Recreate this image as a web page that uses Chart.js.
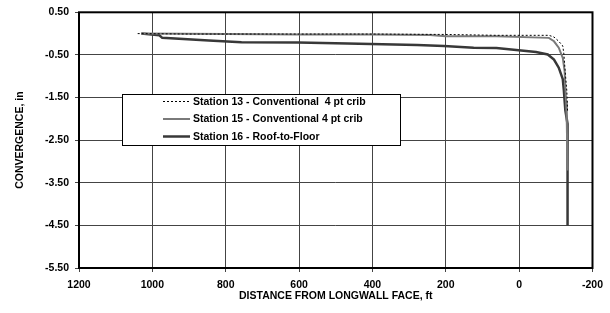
<!DOCTYPE html>
<html>
<head>
<meta charset="utf-8">
<script src="https://cdn.jsdelivr.net/npm/chart.js@4/dist/chart.umd.min.js"></script>
<style>
  html, body { margin: 0; padding: 0; background: #fff; }
  #wrap { width: 610px; height: 313px; position: relative; }
</style>
</head>
<body>
<div id="wrap"><canvas id="c" width="610" height="313"></canvas></div>
<script>
// ---- Data ----
const seriesNames = [
  'Station 13 - Conventional  4 pt crib',
  'Station 15 - Conventional 4 pt crib',
  'Station 16 - Roof-to-Floor'
];
const st13Distance = [1040, 900, 700, 500, 400, 200, 62, -81, -95, -108, -119, -122, -124, -127, -130, -132];
const st13Convergence = [0.0, -0.01, -0.01, -0.01, -0.01, -0.02, -0.04, -0.04, -0.08, -0.18, -0.29, -0.48, -0.71, -1.04, -1.34, -1.81];

const st15Distance = [1030, 800, 600, 400, 243, 200, 62, -81, -95, -108, -119, -124, -126, -128, -130, -132];
const st15Convergence = [0.0, -0.01, -0.02, -0.02, -0.03, -0.06, -0.06, -0.10, -0.18, -0.33, -0.57, -0.88, -1.27, -1.58, -2.12, -3.21];

const st16Distance = [1030, 981, 973, 846, 757, 603, 468, 278, 205, 124, 62, 35, -46, -78, -95, -108, -119, -122, -124, -126, -132, -132];
const st16Convergence = [0.0, -0.04, -0.10, -0.16, -0.20, -0.21, -0.23, -0.27, -0.29, -0.33, -0.34, -0.36, -0.43, -0.49, -0.61, -0.80, -1.07, -1.34, -1.58, -1.80, -2.12, -4.50];

const xTickValues = [1200, 1000, 800, 600, 400, 200, 0, -200];
const yTickValues = [0.5, -0.5, -1.5, -2.5, -3.5, -4.5, -5.5];

const toPoints = (xs, ys) => xs.map((x, i) => ({ x: x, y: ys[i] }));

const FONT = { family: '"Liberation Sans", Arial, sans-serif', size: 10.5, weight: 'bold' };

const legendPlugin = {
  id: 'boxLegend',
  afterDatasetsDraw(chart) {
    const ctx = chart.ctx;
    const a = chart.chartArea;
    // frame around plot area
    ctx.save();
    ctx.strokeStyle = '#000';
    ctx.lineWidth = 2;
    ctx.strokeRect(a.left, a.top, a.right - a.left, a.bottom - a.top);
    ctx.restore();

    // legend box
    const bx = 122, by = 94, bw = 278, bh = 51;
    ctx.save();
    ctx.fillStyle = '#fff';
    ctx.fillRect(bx, by, bw, bh);
    ctx.strokeStyle = '#000';
    ctx.lineWidth = 1;
    ctx.strokeRect(bx + 0.5, by + 0.5, bw, bh);
    const rows = [101.5, 119, 136.5];
    chart.data.datasets.forEach((ds, i) => {
      const y = rows[i];
      ctx.save();
      ctx.strokeStyle = ds.borderColor;
      ctx.lineWidth = ds.borderWidth;
      ctx.setLineDash(ds.borderDash || []);
      ctx.beginPath();
      ctx.moveTo(163, y);
      ctx.lineTo(190, y);
      ctx.stroke();
      ctx.restore();
      ctx.fillStyle = '#000';
      ctx.font = 'bold 10.5px "Liberation Sans", Arial, sans-serif';
      ctx.textBaseline = 'middle';
      ctx.textAlign = 'left';
      ctx.fillText(ds.label, 193, y + 0.5);
    });
    ctx.restore();
  }
};

new Chart(document.getElementById('c'), {
  type: 'line',
  data: {
    datasets: [
      {
        label: seriesNames[0],
        data: toPoints(st13Distance, st13Convergence),
        borderColor: '#000',
        borderWidth: 1,
        borderDash: [2, 2],
        pointRadius: 0,
        fill: false,
        tension: 0
      },
      {
        label: seriesNames[1],
        data: toPoints(st15Distance, st15Convergence),
        borderColor: '#7a7a7a',
        borderWidth: 2,
        pointRadius: 0,
        fill: false,
        tension: 0
      },
      {
        label: seriesNames[2],
        data: toPoints(st16Distance, st16Convergence),
        borderColor: '#383838',
        borderWidth: 2.5,
        pointRadius: 0,
        fill: false,
        tension: 0
      }
    ]
  },
  options: {
    responsive: false,
    animation: false,
    devicePixelRatio: 1,
    layout: { padding: { top: 11, right: 13, left: 0, bottom: 0 } },
    plugins: {
      legend: { display: false },
      tooltip: { enabled: false }
    },
    scales: {
      x: {
        type: 'linear',
        reverse: true,
        min: -200,
        max: 1200,
        afterBuildTicks: (s) => { s.ticks = xTickValues.map(v => ({ value: v })); },
        afterFit: (s) => { s.height = 45; },
        grid: { color: '#444', lineWidth: 1, tickLength: 4, drawTicks: true },
        border: { display: false },
        ticks: {
          color: '#000',
          font: FONT,
          padding: 7,
          maxRotation: 0,
          autoSkip: false,
          callback: (v) => String(v)
        },
        title: {
          display: true,
          text: 'DISTANCE FROM LONGWALL FACE, ft',
          color: '#000',
          font: FONT,
          padding: { top: 0, bottom: 11 }
        }
      },
      y: {
        type: 'linear',
        min: -5.5,
        max: 0.5,
        afterBuildTicks: (s) => { s.ticks = yTickValues.map(v => ({ value: v })); },
        afterFit: (s) => { s.width = 79; },
        grid: { color: '#444', lineWidth: 1, tickLength: 4, drawTicks: true },
        border: { display: false },
        ticks: {
          color: '#000',
          font: FONT,
          padding: 6,
          autoSkip: false,
          callback: (v) => Number(v).toFixed(2)
        },
        title: {
          display: true,
          text: 'CONVERGENCE, in',
          color: '#000',
          font: FONT,
          padding: { top: 14, bottom: 0 }
        }
      }
    }
  },
  plugins: [legendPlugin]
});
</script>
</body>
</html>
